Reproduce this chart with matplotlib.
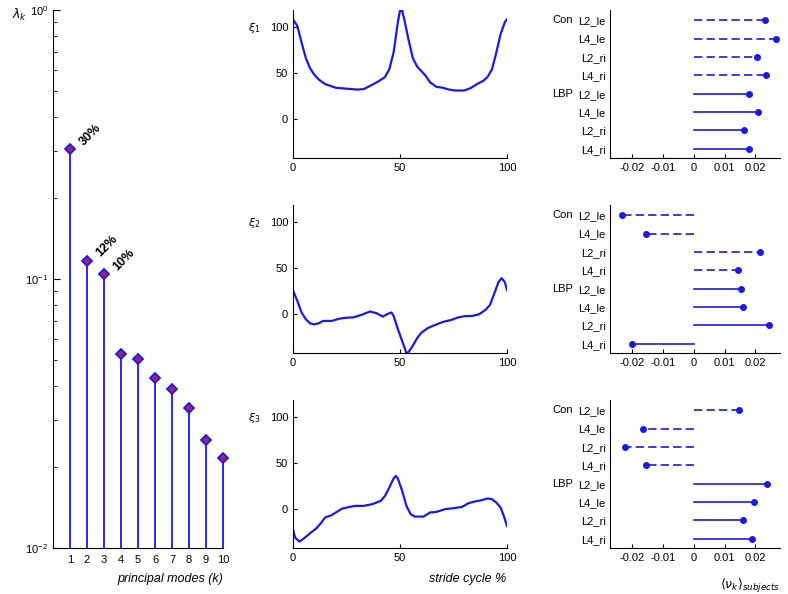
import numpy as np
import matplotlib.pyplot as plt

plt.rcParams['font.family'] = ['Liberation Sans', 'DejaVu Sans']
plt.rcParams['mathtext.fontset'] = 'dejavusans'
plt.rcParams['font.size'] = 8

# eigenvalues of the first 10 principal modes
modes = np.arange(1, 11)
lam = [0.304, 0.117, 0.104, 0.0526, 0.0503, 0.0430, 0.0390, 0.0332, 0.0252, 0.0216]
pct_labels = {1: '30%', 2: '12%', 3: '10%'}

# principal mode shapes over the stride cycle
xi1_x = [0, 2, 4, 6, 8, 10, 12, 15, 20, 25, 30, 33, 36, 40, 43, 45, 47, 49, 50, 51, 52, 54, 56,
         58, 60, 62, 64, 67, 70, 73, 76, 80, 83, 86, 89, 91, 93, 95, 97, 99, 100]
xi1_y = [108, 101, 83, 66, 55, 48, 43, 38, 34, 33, 32, 32.5, 36, 41, 45.6, 54, 72, 105, 117.5, 117.5,
         108, 86, 66, 57, 52, 47, 40, 35, 34, 32, 31, 31, 33.6, 38, 41.6, 46, 54, 72, 92, 105, 108]

xi2_x = [0, 2, 4, 6, 8, 10, 12, 14, 18, 22, 26, 28, 32, 36, 39, 42, 44, 46, 47, 49, 51, 53, 54,
         56, 58, 60, 63, 66, 70, 74, 77, 80, 84, 87, 90, 92, 94, 96, 97.5, 99, 100]
xi2_y = [25.5, 14.6, 1.8, -5.5, -9.9, -11, -9.9, -7.3, -7.3, -4.7, -3.6, -3.6, -0.7, 2.9, 1.1, -2.6,
         0, 1.8, -1.8, -16, -29, -42, -41, -34, -26, -20, -15, -12, -8.4, -6.2, -3.6, -2.2, -1.8, 0,
         4.7, 9.9, 22, 34.6, 39, 34.6, 26]

xi3_x = [0, 1, 3, 5, 8, 11, 13, 15, 18, 20, 23, 26, 29, 33, 37, 41, 43, 45, 47, 48, 49, 51, 53,
         55, 57, 61, 64, 67, 71, 75, 79, 82, 85, 88, 91, 93, 95, 97, 98.5, 100]
xi3_y = [-21.7, -30.7, -35, -31.8, -26, -20.6, -15.2, -9, -6.5, -3.6, 0.7, 2.2, 3.6, 3.6, 5.4, 9,
         14.4, 23.5, 33.2, 36, 33.2, 19.9, 3.6, -5.4, -8, -8, -3.6, -2.9, 0, 1.1, 2.5, 6.5, 8.3, 9.7,
         11.6, 10.8, 7.2, 1.8, -7.2, -18]

# mean subject weights per group / side
groups = ['Con', 'LBP']
rows = ['L2_le', 'L4_le', 'L2_ri', 'L4_ri', 'L2_le', 'L4_le', 'L2_ri', 'L4_ri']
nu1 = [0.0231, 0.0266, 0.0206, 0.0234, 0.0180, 0.0209, 0.0164, 0.0180]
nu2 = [-0.0233, -0.0156, 0.0215, 0.0145, 0.0154, 0.0160, 0.0245, -0.0201]
nu3 = [0.0147, -0.0165, -0.0223, -0.0156, 0.0237, 0.0196, 0.0160, 0.0190]

blue = '#1a1ae0'
fig = plt.figure(figsize=(7.88, 5.94), dpi=100)


def clean(ax):
    ax.spines['top'].set_visible(False)
    ax.spines['right'].set_visible(False)
    ax.tick_params(direction='in', which='both', labelsize=8)


# eigenvalue spectrum
ax = fig.add_axes([0.0673, 0.0774, 0.2157, 0.9057])
ax.vlines(modes, 1e-2, lam, color=blue, lw=1.3, clip_on=False)
ax.plot(modes, lam, 'D', ms=5.5, mfc='#a0207a', mec=blue, mew=1.3, clip_on=False)
for k, s in pct_labels.items():
    ax.annotate(s, (k, lam[k - 1]), xytext=(5, 1), textcoords='offset points',
                rotation=45, fontsize=9, fontweight='bold', ha='left', va='bottom')
ax.set_yscale('log')
ax.set_ylim(1e-2, 1)
ax.set_xlim(0, 10)
ax.set_xticks(modes)
clean(ax)
ax.tick_params(axis='x', length=0, pad=5)
ax.tick_params(axis='y', which='major', length=5)
ax.tick_params(axis='y', which='minor', length=3)
fig.text(0.015, 0.975, r'$\lambda_k$', fontsize=9, va='center')
fig.text(0.283, 0.02, 'principal modes (k)', style='italic', fontsize=9, ha='right')

rows_y = [0.734, 0.4057, 0.0774]
curves = [(xi1_x, xi1_y), (xi2_x, xi2_y), (xi3_x, xi3_y)]
weights = [nu1, nu2, nu3]

for i in range(3):
    b = rows_y[i]
    # mode shape
    ax = fig.add_axes([0.3718, b, 0.2716, 0.249])
    ax.plot(curves[i][0], curves[i][1], color=blue, lw=1.6)
    ax.set_xlim(0, 100)
    ax.set_ylim(-42, 118)
    ax.set_xticks([0, 50, 100])
    ax.set_yticks([0, 50, 100])
    clean(ax)
    ax.tick_params(length=3)
    fig.text(0.315, b + 0.249 - 0.03, r'$\xi_%d$' % (i + 1), fontsize=8, va='center')

    # subject weights
    ax = fig.add_axes([0.774, b, 0.2157, 0.249])
    ypos = np.arange(len(rows))
    for j, v in enumerate(weights[i]):
        ls = (0, (5, 2.5)) if j < 4 else '-'
        ax.plot([0, v], [j, j], color=blue, lw=1.2, ls=ls)
        ax.plot(v, j, 'o', color=blue, ms=4)
    ax.set_xlim(-0.0273, 0.028)
    ax.set_ylim(7.5, -0.55)
    ax.set_xticks([-0.02, -0.01, 0, 0.01, 0.02])
    ax.set_xticklabels(['-0.02', '-0.01', '0', '0.01', '0.02'])
    ax.set_yticks(ypos)
    ax.set_yticklabels(rows)
    clean(ax)
    ax.tick_params(axis='x', length=3)
    ax.tick_params(axis='y', length=0, pad=3)
    ax.text(-0.28, 0, groups[0], transform=ax.get_yaxis_transform(), ha='center', va='center', fontsize=8)
    ax.text(-0.28, 4, groups[1], transform=ax.get_yaxis_transform(), ha='center', va='center', fontsize=8)

fig.text(0.643, 0.02, 'stride cycle %', style='italic', fontsize=9, ha='right')
fig.text(0.99, 0.008, r'$\langle \nu_k \rangle_{subjects}$', fontsize=9, ha='right')

plt.savefig('out.png', dpi=100)
